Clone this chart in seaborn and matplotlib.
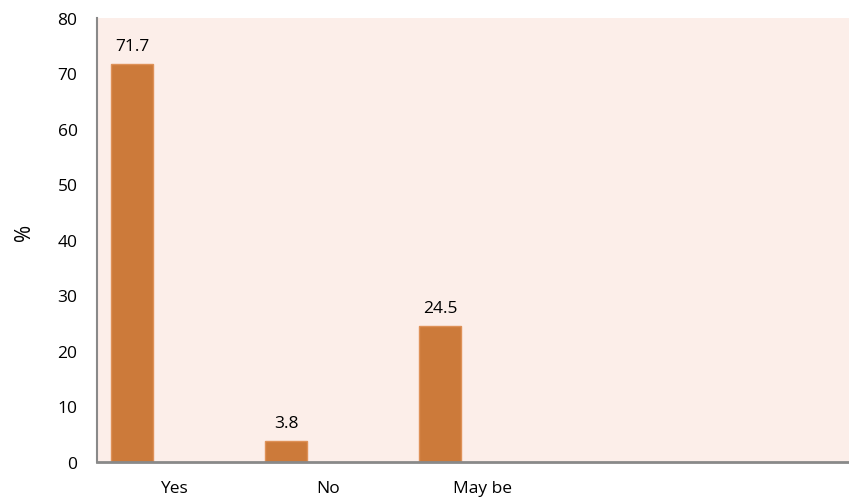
import matplotlib
matplotlib.use("Agg")
import matplotlib.pyplot as plt
import seaborn as sns
import pandas as pd

categories = ["Yes", "No", "May be"]
percent = [71.7, 3.8, 24.5]
y_ticks = [0, 10, 20, 30, 40, 50, 60, 70, 80]

sns.set_theme(style="white")
plt.rcParams["font.family"] = ["Open Sans", "DejaVu Sans"]

bar_color = "#CC7A3A"
edge_color = "#DE9158"
axis_gray = "#898989"
text_color = "#000000"

# One visible series among three slots per category (the other two stay empty)
df = pd.DataFrame({"answer": categories, "pct": percent, "series": ["s1"] * 3})

fig = plt.figure(figsize=(8.49, 5.02), dpi=100)
ax = fig.add_axes([97 / 849, 39 / 502, 752 / 849, 444 / 502])
ax.set_facecolor("#FCEEE9")

sns.barplot(
    data=df, x="answer", y="pct", hue="series",
    hue_order=["s1", "s2", "s3"], order=categories,
    palette={"s1": bar_color, "s2": bar_color, "s3": bar_color},
    width=0.82, dodge=True, legend=False, ax=ax,
    edgecolor=edge_color, linewidth=1, saturation=1, errorbar=None,
)

for p, v in zip(ax.patches, percent):
    ax.annotate(f"{v}", (p.get_x() + p.get_width() / 2, p.get_height()),
                xytext=(0, 7), textcoords="offset points",
                ha="center", va="bottom", fontsize=12.5, color=text_color)

ax.set_ylim(0, 80)
ax.set_yticks(y_ticks)
ax.set_xlim(-0.5, 4.38)
ax.tick_params(axis="both", length=0, labelsize=12.5, colors=text_color)
ax.tick_params(axis="x", pad=13)
ax.tick_params(axis="y", pad=14)
ax.set_xlabel("")
ax.set_ylabel("%", fontsize=15, color=text_color)
ax.yaxis.set_label_coords(-0.083, 0.52)

for side in ["top", "right"]:
    ax.spines[side].set_visible(False)
ax.spines["left"].set_color(axis_gray)
ax.spines["left"].set_linewidth(1.5)
ax.spines["bottom"].set_color(axis_gray)
ax.spines["bottom"].set_linewidth(2)
ax.grid(False)

fig.savefig("out.png", dpi=100)
